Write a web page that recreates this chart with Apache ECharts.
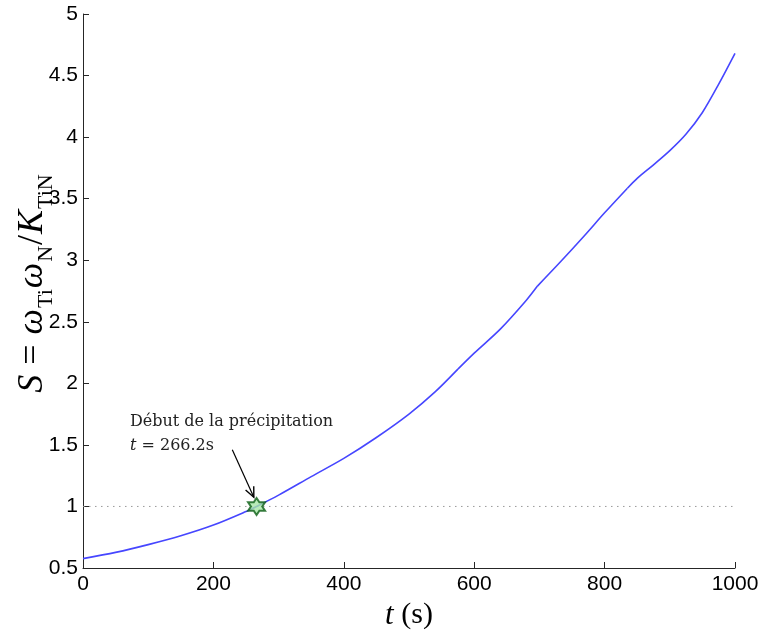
<!DOCTYPE html>
<html>
<head>
<meta charset="utf-8">
<script src="https://cdn.jsdelivr.net/npm/echarts@6/dist/echarts.min.js"></script>
<style>html,body{margin:0;padding:0;background:#fff}#c{width:760px;height:633px}</style>
</head>
<body>
<div id="c"></div>
<script>
// ---- data ----
const tValues = [0, 50, 100, 150, 200, 250, 266.2, 300, 350, 400, 450, 500, 540, 575, 600, 640, 680, 697, 732, 770, 800, 835, 850, 875, 900, 925, 950, 975, 1000];
const sValues = [0.576, 0.627, 0.69, 0.762, 0.849, 0.959, 1.0, 1.092, 1.242, 1.39, 1.56, 1.75, 1.93, 2.115, 2.245, 2.44, 2.675, 2.79, 2.985, 3.205, 3.385, 3.585, 3.665, 3.775, 3.89, 4.025, 4.2, 4.43, 4.68];
const kinkTimes = [575, 697, 835];     // slope breaks in the curve
const thresholdT = [0, 1000];
const thresholdS = [1, 1];
const onsetPoint = [266.2, 1.0];
const annotationLines = ['Début de la précipitation', 't = 266.2s'];
const annotationAnchor = [72, 1.75];   // data coords of text top-left
const arrowFrom = [229, 1.46];
const arrowTo = [262, 1.075];
const xTicks = [0, 200, 400, 600, 800, 1000];
const yTicks = [0.5, 1, 1.5, 2, 2.5, 3, 3.5, 4, 4.5, 5];

// hexagram symbol path
function hexagramPath() {
  const pts = [];
  for (let k = 0; k < 12; k++) {
    const a = (-90 + k * 30) * Math.PI / 180;
    const r = (k % 2 === 0) ? 1 : 0.5774;
    pts.push((r * Math.cos(a)).toFixed(4) + ' ' + (r * Math.sin(a)).toFixed(4));
  }
  return 'path://M' + pts.join(' L') + ' Z';
}

// split the curve into smooth pieces between slope breaks
const bounds = [tValues[0]].concat(kinkTimes, [tValues[tValues.length - 1]]);
const curvePieces = [];
for (let b = 0; b < bounds.length - 1; b++) {
  const piece = [];
  tValues.forEach((t, i) => { if (t >= bounds[b] && t <= bounds[b + 1]) piece.push([t, sValues[i]]); });
  curvePieces.push(piece);
}

const chart = echarts.init(document.getElementById('c'), null, {renderer: 'canvas'});
const axisColor = '#262626';
const serif = '"Liberation Serif", "DejaVu Serif", serif';
const dserif = '"DejaVu Serif", "Liberation Serif", serif';
const sans = '"Liberation Sans", Arial, sans-serif';

const curveSeries = curvePieces.map(piece => ({
  type: 'line', symbol: 'none', smooth: 0.3, silent: true,
  data: piece,
  lineStyle: {color: '#4646ff', width: 1.6},
  z: 2
}));

chart.setOption({
  animation: false,
  backgroundColor: '#fff',
  grid: {left: 83, right: 25, top: 14, bottom: 65, containLabel: false, outerBoundsMode: 'none'},
  xAxis: {
    type: 'value', min: xTicks[0], max: xTicks[xTicks.length - 1], interval: 200,
    name: '{i|t}{n| (s)}', nameLocation: 'middle', nameGap: 28,
    nameTextStyle: {rich: {
      i: {fontFamily: serif, fontStyle: 'italic', fontSize: 31, color: '#000'},
      n: {fontFamily: serif, fontSize: 30, color: '#000'}
    }},
    axisLine: {lineStyle: {color: axisColor, width: 1}},
    axisTick: {inside: true, length: 6, lineStyle: {color: axisColor}},
    axisLabel: {fontFamily: sans, fontSize: 21, color: '#000', margin: 6, formatter: v => String(v)},
    splitLine: {show: false}
  },
  yAxis: {
    type: 'value', min: yTicks[0], max: yTicks[yTicks.length - 1], interval: 0.5,
    axisLine: {show: true, lineStyle: {color: axisColor, width: 1}},
    axisTick: {show: true, inside: true, length: 6, lineStyle: {color: axisColor}},
    axisLabel: {fontFamily: sans, fontSize: 21, color: '#000', margin: 5},
    splitLine: {show: false}
  },
  series: [
    {
      type: 'line', silent: true, symbol: 'none',
      data: thresholdT.map((t, i) => [t, thresholdS[i]]),
      lineStyle: {color: '#9a9a9a', width: 1, type: [1.5, 4.5]},
      z: 1
    }
  ].concat(curveSeries, [
    {
      type: 'scatter', silent: true,
      data: [onsetPoint],
      symbol: hexagramPath(), symbolSize: 17,
      itemStyle: {color: '#a6e6a6', borderColor: '#0b5e14', borderWidth: 2},
      z: 5
    }
  ])
});

const p = chart.convertToPixel({gridIndex: 0}, annotationAnchor);
const a0 = chart.convertToPixel({gridIndex: 0}, arrowFrom);
const a1 = chart.convertToPixel({gridIndex: 0}, arrowTo);
const ang = Math.atan2(a1[1] - a0[1], a1[0] - a0[0]);
const hl = 11, hw = 0.42;
const h1 = [a1[0] - hl * Math.cos(ang - hw), a1[1] - hl * Math.sin(ang - hw)];
const h2 = [a1[0] - hl * Math.cos(ang + hw), a1[1] - hl * Math.sin(ang + hw)];
chart.setOption({
  graphic: [
    {
      type: 'text', x: 31, y: 283, rotation: Math.PI / 2,
      style: {
        text: '{i|S}{n|=}{i|ω}{s|Ti}{i|ω}{s|N}{n2|/}{i|K}{s|TiN}',
        align: 'center', verticalAlign: 'middle',
        rich: {
          i: {fontFamily: serif, fontStyle: 'italic', fontSize: 36, fill: '#000', verticalAlign: 'bottom', lineHeight: 40},
          n: {fontFamily: serif, fontSize: 36, fill: '#000', verticalAlign: 'bottom', lineHeight: 40, padding: [0, 10, 0, 10]},
          n2: {fontFamily: serif, fontSize: 36, fill: '#000', verticalAlign: 'bottom', lineHeight: 40, padding: [0, 1, 0, 0]},
          s: {fontFamily: serif, fontSize: 22, fill: '#000', verticalAlign: 'bottom', lineHeight: 40, padding: [0, 1, -6, 1]}
        }
      }
    },
    {
      type: 'text', left: p[0], top: p[1],
      style: {
        text: '{n|' + annotationLines[0] + '}\n{i|t}{n| = 266.2s}',
        rich: {
          n: {fontFamily: dserif, fontSize: 16, fill: '#222', lineHeight: 24},
          i: {fontFamily: dserif, fontStyle: 'italic', fontSize: 16, fill: '#222', lineHeight: 24}
        }
      }
    },
    {type: 'line', shape: {x1: a0[0], y1: a0[1], x2: a1[0], y2: a1[1]}, style: {stroke: '#000', lineWidth: 1.2}, z: 10},
    {type: 'polyline', shape: {points: [h1, a1, h2]}, style: {stroke: '#000', lineWidth: 1.4, fill: null}, z: 10}
  ]
});
</script>
</body>
</html>
